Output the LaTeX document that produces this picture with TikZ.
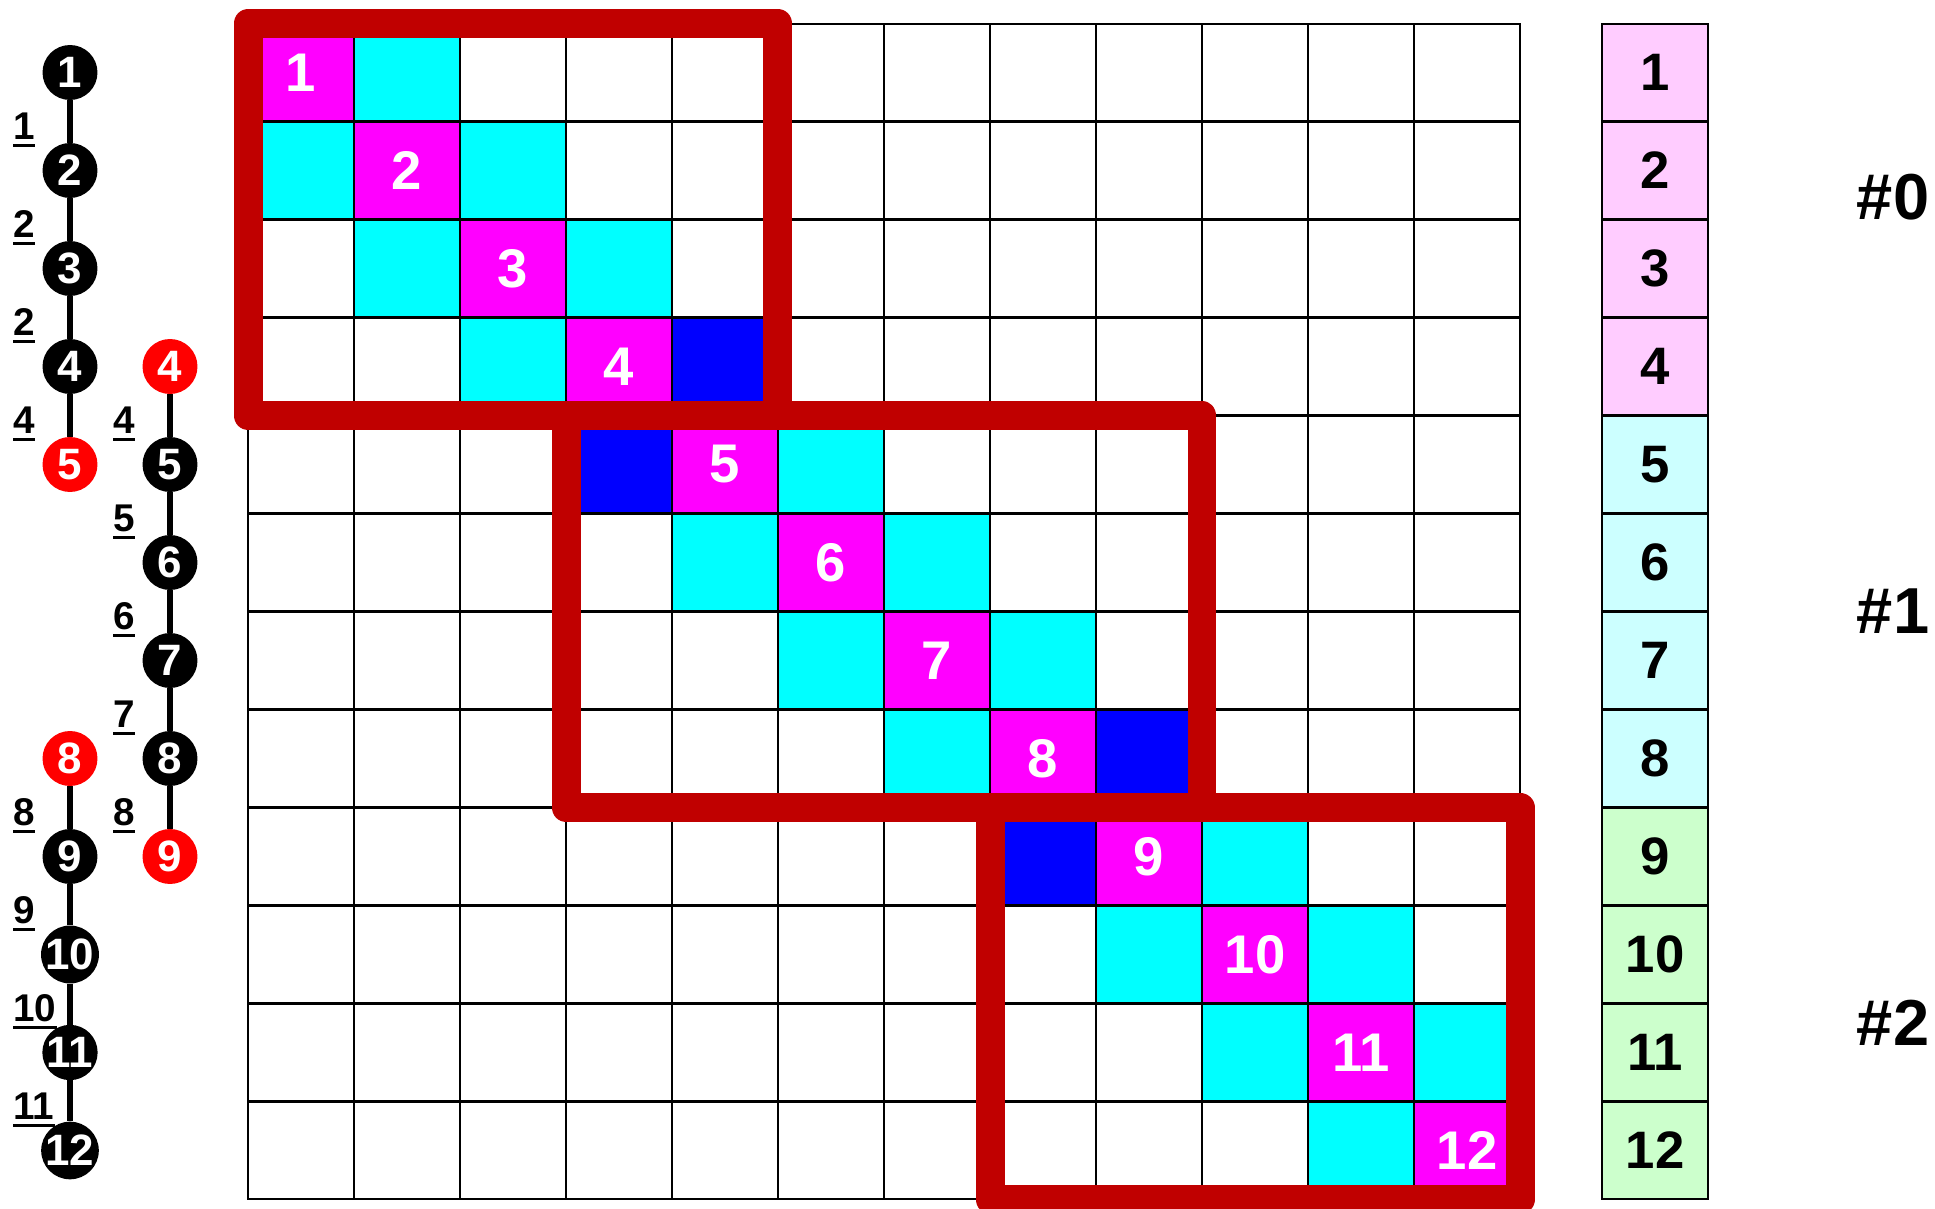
\documentclass[tikz,border=0pt]{standalone}
\usepackage{fontspec}
\setmainfont{Liberation Sans}
\usepackage{tikz}
\usetikzlibrary{positioning}
\definecolor{diagmag}{HTML}{FF00FF}
\definecolor{nbcyan}{HTML}{00FFFF}
\definecolor{extblue}{HTML}{0000FF}
\definecolor{blockred}{HTML}{C00000}
\definecolor{extred}{HTML}{FF0000}
\definecolor{peApink}{HTML}{FFCCFF}
\definecolor{peBcyan}{HTML}{CCFFFF}
\definecolor{peCgreen}{HTML}{CCFFCC}

\begin{document}
\begin{tikzpicture}[x=0.02cm, y=-0.02cm,
            cell/.style={rectangle, draw=black, line width=0.04cm, minimum width=2.12cm, minimum height=1.96cm, inner sep=0pt, outer sep=0pt, fill=white, text=white, font=\fontsize{31}{31}\selectfont\bfseries},
            diagcell/.style={cell, fill=diagmag},
            nbcell/.style={cell, fill=nbcyan},
            extcell/.style={cell, fill=extblue},
            veccell/.style={cell, text=black, font=\fontsize{30}{30}\selectfont\bfseries},
            blockbox/.style={draw=blockred, line width=0.58cm, line join=round},
            vtx/.style={circle, fill=black, minimum size=1.1cm, inner sep=0pt, text=white, font=\fontsize{25}{25}\selectfont\bfseries},
            extvtx/.style={vtx, fill=extred},
            link/.style={line width=0.12cm},
            elab/.style={inner sep=0pt, anchor=base west, font=\fontsize{22}{22}\selectfont\bfseries},
            uline/.style={line width=0.06cm},
            pelab/.style={font=\fontsize{37}{37}\selectfont\bfseries}]
            \useasboundingbox (0,0) rectangle (1935,1209);
            % matrix cells
            \foreach \i in {1,...,12}
              \foreach \j in {1,...,12} {
                \pgfmathtruncatemacro{\dd}{abs(\i-\j)}
                \pgfmathtruncatemacro{\hal}{(\i==4 && \j==5) || (\i==5 && \j==4) || (\i==8 && \j==9) || (\i==9 && \j==8)}
                \def\kind{cell}
                \ifnum\dd=1 \def\kind{nbcell}\fi
                \ifnum\hal=1 \def\kind{extcell}\fi
                \ifnum\dd=0 \def\kind{diagcell}\fi
                \node[\kind] (c-\i-\j) at ({195+106*\j},{98*\i-25.5}) {\ifnum\dd=0 \i\fi};
              }
            % vector
            \foreach \i in {1,...,12} {
              \pgfmathtruncatemacro{\grp}{int((\i-1)/4)}
              \ifcase\grp \def\vfill{peApink}\or \def\vfill{peBcyan}\or \def\vfill{peCgreen}\fi
              \node[veccell, fill=\vfill] (v-\i) at (1655,{98*\i-25.5}) {\i};
            }
            % local blocks
            \draw[blockbox] (c-1-1.north west) rectangle (c-4-5.south east);
            \draw[blockbox] (c-5-4.north west) rectangle (c-8-9.south east);
            \draw[blockbox] (c-9-8.north west) rectangle (c-12-12.south east);
            % 1D meshes
            \foreach \k in {1,2,3,4,9,10,11,12} \node[vtx] (a-\k) at (70,{98*\k-25.5}) {\k};
            \foreach \k in {5,8} \node[extvtx] (a-\k) at (70,{98*\k-25.5}) {\k};
            \foreach \k in {5,6,7,8} \node[vtx] (b-\k) at (170,{98*\k-25.5}) {\k};
            \foreach \k in {4,9} \node[extvtx] (b-\k) at (170,{98*\k-25.5}) {\k};
            \foreach \p/\q in {1/2,2/3,3/4,4/5,8/9,9/10,10/11,11/12} \draw[link] (a-\p) -- (a-\q);
            \foreach \p/\q in {4/5,5/6,6/7,7/8,8/9} \draw[link] (b-\p) -- (b-\q);
            \foreach \p/\lab in {1/1,2/2,3/2,4/4,8/8,9/9,10/10,11/11} {
              \node[elab] (la-\p) at (13,{98*\p+41.5}) {\lab};
              \draw[uline] ([yshift=-3.4pt]la-\p.base west) -- ([yshift=-3.4pt]la-\p.base east);
            }
            \foreach \p/\lab in {4/4,5/5,6/6,7/7,8/8} {
              \node[elab] (lb-\p) at (113,{98*\p+41.5}) {\lab};
              \draw[uline] ([yshift=-3.4pt]lb-\p.base west) -- ([yshift=-3.4pt]lb-\p.base east);
            }
            % partitions
            \node[pelab] (pe0) at (1893,197) {\#0};
            \node[pelab] (pe1) at (1893,611) {\#1};
            \node[pelab] (pe2) at (1893,1023) {\#2};
        \end{tikzpicture}
\end{document}
